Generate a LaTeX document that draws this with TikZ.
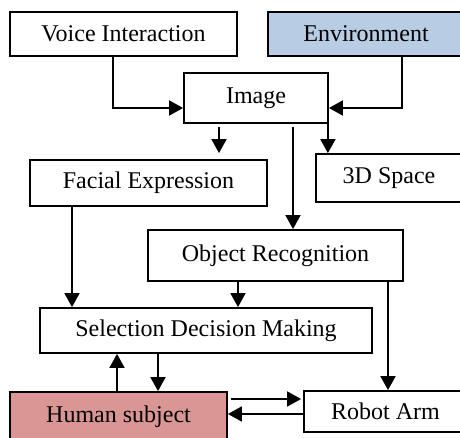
\documentclass[tikz,border=0pt]{standalone}
\usepackage{fontspec}
\setmainfont{Liberation Serif}
\usetikzlibrary{positioning}
\usetikzlibrary{calc}
\usetikzlibrary{arrows.meta}
\definecolor{envblue}{RGB}{184,204,228}
\definecolor{humanred}{RGB}{217,150,148}

\begin{document}
\begin{tikzpicture}[x=0.5pt, y=-0.5pt, line width=0.9pt, >={Triangle[length=7pt, width=7.5pt]},
	every node/.style={rectangle, draw, inner sep=0pt, font=\fontsize{12}{14}\selectfont}]
	\clip (0,0) rectangle (460,438);
%     % I top row
	\node[minimum width=113.5pt, minimum height=22pt] (voice) at (123.5,34) {Voice Interaction};
	\node[minimum width=98pt, minimum height=22pt, fill=envblue] (env) at (366,34) {Environment};
	\node[minimum width=72pt, minimum height=25pt] (image) at (256,98) {Image};
	\draw[->] ($(voice.south)+(-10.5,0)$) |- ($(image.west)+(0,10)$);
	\draw[->] ($(env.south)+(36,0)$) |- ($(image.east)+(0,10)$);
%     % II middle
	\node[minimum width=118.5pt, minimum height=23pt] (facial) at (148.5,183) {Facial Expression};
	\node[minimum width=73pt, minimum height=24pt] (space) at (389,178) {3D Space};
	\node[minimum width=127.5pt, minimum height=25.5pt] (object) at (275.5,255.5) {Object Recognition};
	\coordinate (imgA) at ($(image.south)+(-37,3)$);
	\coordinate (imgB) at ($(image.south)+(37,3)$);
	\coordinate (imgC) at ($(image.south east)+(-1,0)$);
	\draw[->] (imgA) -- ($(imgA |- facial.north)+(0,-6)$);
	\draw[->] (imgC) -- (imgC |- space.north);
	\draw[->] (imgB) -- (imgB |- object.north);
%     % III lower
	\node[minimum width=166pt, minimum height=22.5pt] (select) at (206,330.5) {Selection Decision Making};
	\node[minimum width=108.5pt, minimum height=25pt, fill=humanred] (human) at (118.5,417) {Human subject};
	\node[minimum width=81.5pt, minimum height=20.5pt] (robot) at (385.5,411.5) {Robot Arm};
	\coordinate (facA) at ($(facial.south)+(-76.5,0)$);
	\coordinate (objA) at ($(object.south)+(-37.5,0)$);
	\coordinate (objB) at ($(object.south)+(112.5,0)$);
	\draw[->] (facA) -- (facA |- select.north);
	\draw[->] (objA) -- (objA |- select.north);
	\draw[->] (objB) -- (objB |- robot.north);
	%% below
	\coordinate (humA) at ($(human.north)+(-1.5,0)$);
	\coordinate (selA) at ($(select.south)+(-48,0)$);
	\coordinate (humB) at ($(human.east)+(3,-18)$);
	\coordinate (robA) at ($(robot.west)+(0,2.5)$);
	\draw[->] (humA) -- (humA |- select.south);
	\draw[->] (selA) -- (selA |- human.north);
	\draw[->] (humB) -- ($(humB -| robot.west)+(-2,0)$);
	\draw[->] (robA) -- (robA -| human.east);
\end{tikzpicture}
\end{document}
